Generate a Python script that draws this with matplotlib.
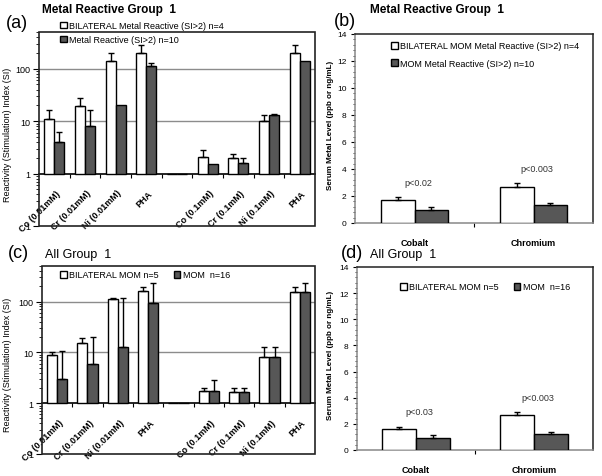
import matplotlib
matplotlib.use("Agg")
import matplotlib.pyplot as plt
from matplotlib.patches import Rectangle, Patch
from matplotlib.ticker import FixedLocator, NullFormatter
from matplotlib.transforms import ScaledTranslation
import numpy as np

plt.rcParams['font.family'] = ['Liberation Sans', 'DejaVu Sans']

# stimulation index panels (a) and (c)
si_cats = ['Co (0.01mM)', 'Cr (0.01mM)', 'Ni (0.01mM)', 'PHA', '',
           'Co (0.1mM)', 'Cr (0.1mM)', 'Ni (0.1mM)', 'PHA']

a_white = [11, 19, 140, 200, np.nan, 2.1, 2.0, 10.1, 195]
a_white_top = [16, 27, 200, 280, np.nan, 2.8, 2.35, 12.8, 280]
a_dark = [4, 8, 20, 112, np.nan, 1.5, 1.6, 13.2, 140]
a_dark_top = [6.3, 16, 20, 130, np.nan, 1.5, 2.0, 13.8, 140]

c_white = [9, 15, 110, 160, np.nan, 1.75, 1.65, 8, 155]
c_white_top = [10, 19.5, 115, 190, np.nan, 2.0, 2.0, 12.5, 190]
c_dark = [3, 6, 13, 95, np.nan, 1.75, 1.65, 8, 155]
c_dark_top = [10.5, 20, 118, 230, np.nan, 2.8, 2.0, 12.5, 235]

# serum metal panels (b) and (d)
metals = ['Cobalt', 'Chromium']
b_white = [1.7, 2.7]
b_white_top = [1.9, 2.95]
b_dark = [1.0, 1.3]
b_dark_top = [1.2, 1.5]
b_p = ['p<0.02', 'p<0.003']
b_p_y = [3.0, 4.0]

d_white = [1.6, 2.65]
d_white_top = [1.75, 2.9]
d_dark = [0.95, 1.2]
d_dark_top = [1.15, 1.4]
d_p = ['p<0.03', 'p<0.003']
d_p_y = [2.95, 4.05]

DARK = '#575757'
W, H = 602, 477

fig = plt.figure(figsize=(6.02, 4.77), dpi=100, facecolor='w')


def box(l, t, r, b):
    return fig.add_axes([l / W, 1 - b / H, (r - l) / W, (b - t) / H])


def up_errors(ax, x, vals, tops):
    v = np.array(vals, dtype=float)
    t = np.array(tops, dtype=float)
    keep = np.nan_to_num(t - v) > 0
    ax.errorbar(x[keep], v[keep], yerr=[np.zeros(keep.sum()), (t - v)[keep]],
                fmt='none', ecolor='black', elinewidth=1, capsize=2.5, zorder=4)


def si_panel(ax, white, white_top, dark, dark_top):
    x = np.arange(len(si_cats))
    bw = 0.33
    ax.set_yscale('log')
    ax.set_ylim(0.1, 500)
    ax.set_xlim(-0.5, len(si_cats) - 0.5)
    # bars rise from the category axis at 1
    ax.bar(x - bw / 2, np.nan_to_num(np.array(white) - 1), bw, bottom=1, color='white',
           edgecolor='black', lw=1, zorder=3)
    ax.bar(x + bw / 2, np.nan_to_num(np.array(dark) - 1), bw, bottom=1, color=DARK,
           edgecolor='black', lw=1, zorder=3)
    up_errors(ax, x - bw / 2, white, white_top)
    up_errors(ax, x + bw / 2, dark, dark_top)
    # y axis
    ax.yaxis.set_major_locator(FixedLocator([0.1, 1, 10, 100]))
    ax.set_yticklabels(['1', '1', '10', '100'], fontsize=6.5)
    ax.yaxis.set_minor_locator(FixedLocator(
        [m * 10.0 ** e for e in range(-1, 3) for m in range(2, 10)]))
    ax.yaxis.set_minor_formatter(NullFormatter())
    ax.tick_params(axis='y', which='major', direction='out', length=4, width=0.8, pad=2)
    ax.tick_params(axis='y', which='minor', direction='out', length=2, width=0.6)
    for v in [10, 100]:
        ax.axhline(v, color='#8c8c8c', lw=1, zorder=1)
    # category axis crosses at 1
    for s in ['top', 'right', 'left']:
        ax.spines[s].set_visible(False)
    ax.spines['bottom'].set_position(('data', 1))
    ax.spines['bottom'].set_linewidth(1.2)
    ax.add_patch(Rectangle((0, 0), 1, 1, transform=ax.transAxes, fill=False,
                           ec='#222222', lw=1.2, clip_on=False, zorder=5))
    ax.set_xticks(x)
    ax.set_xticklabels(si_cats, rotation=45, ha='right', rotation_mode='anchor',
                       fontsize=6.5, fontweight='bold')
    ax.set_xticks(np.arange(len(si_cats) - 1) + 0.5, minor=True)
    ax.tick_params(axis='x', which='major', length=0, pad=10.5)
    ax.tick_params(axis='x', which='minor', direction='out', length=3, width=0.8)
    off = ScaledTranslation(1 / 72, 0, fig.dpi_scale_trans)
    for lab in ax.get_xticklabels():
        lab.set_transform(lab.get_transform() + off)


def metal_panel(ax, white, white_top, dark, dark_top, ptxt, py):
    x = np.arange(len(metals))
    bw = 0.285
    ax.set_ylim(0, 14)
    ax.set_xlim(-0.5, 1.5)
    ax.bar(x - bw / 2, white, bw, color='white', edgecolor='black', lw=1, zorder=3)
    ax.bar(x + bw / 2, dark, bw, color=DARK, edgecolor='black', lw=1, zorder=3)
    up_errors(ax, x - bw / 2, white, white_top)
    up_errors(ax, x + bw / 2, dark, dark_top)
    for xi, t, yy in zip(x, ptxt, py):
        ax.text(xi + 0.03, yy, t, ha='center', va='center', fontsize=6.5, color='#333333')
    ax.set_yticks(np.arange(0, 15, 2))
    ax.set_yticks(np.arange(0, 14.01, 0.4), minor=True)
    ax.tick_params(axis='y', which='major', labelsize=6, length=3, pad=3)
    ax.tick_params(axis='y', which='minor', length=1.5, width=0.5)
    ax.set_xticks(x)
    ax.set_xticklabels(metals, fontsize=6.5, fontweight='bold')
    ax.set_xticks([0.5], minor=True)
    ax.tick_params(axis='x', which='major', length=0, pad=11)
    ax.tick_params(axis='x', which='minor', length=3, width=0.8)
    for s in ax.spines.values():
        s.set_linewidth(1.1)
        s.set_color('#222222')
    ax.spines['left'].set_color('#888888')
    ax.spines['bottom'].set_color('#888888')


def legend(ax, labels, anchor, ncol=1, spacing=0.55, colsp=2.0):
    handles = [Patch(facecolor='white', edgecolor='black', lw=1),
               Patch(facecolor=DARK, edgecolor='black', lw=1)]
    leg = ax.legend(handles, labels, loc='center left', bbox_to_anchor=anchor,
                    frameon=False, fontsize=6.5, ncol=ncol, handlelength=0.75,
                    handleheight=0.75, handletextpad=0.3, labelspacing=spacing,
                    columnspacing=colsp, borderpad=0, borderaxespad=0)
    leg.set_zorder(6)


# (a)
ax_a = box(39, 33, 315, 227)
si_panel(ax_a, a_white, a_white_top, a_dark, a_dark_top)
legend(ax_a, ['BILATERAL Metal Reactive (SI>2) n=4', 'Metal Reactive (SI>2) n=10'],
       (21 / 276, 1 + (33 - 33.5) / 194))

# (c)
ax_c = box(42, 267, 315, 455)
si_panel(ax_c, c_white, c_white_top, c_dark, c_dark_top)
legend(ax_c, ['BILATERAL MOM n=5', 'MOM  n=16'], (18 / 273, 1 - 9 / 188), ncol=2, colsp=1.6)

# (b)
ax_b = box(355, 35, 593, 224)
metal_panel(ax_b, b_white, b_white_top, b_dark, b_dark_top, b_p, b_p_y)
legend(ax_b, ['BILATERAL MOM Metal Reactive (SI>2) n=4', 'MOM Metal Reactive (SI>2) n=10'],
       (36 / 238, 1 - 20.5 / 189), spacing=0.9)

# (d)
ax_d = box(357, 268, 593, 451)
metal_panel(ax_d, d_white, d_white_top, d_dark, d_dark_top, d_p, d_p_y)
legend(ax_d, ['BILATERAL MOM n=5', 'MOM  n=16'], (43 / 236, 1 - 20 / 183), ncol=2, colsp=1.6)

# titles and panel letters
fig.text(42 / W, 1 - 10 / H, 'Metal Reactive Group  1', fontsize=8.5, fontweight='bold',
         ha='left', va='center')
fig.text(370 / W, 1 - 10 / H, 'Metal Reactive Group  1', fontsize=8.5, fontweight='bold',
         ha='left', va='center')
fig.text(45 / W, 1 - 255 / H, 'All Group  1', fontsize=9, ha='left', va='center')
fig.text(370 / W, 1 - 255 / H, 'All Group  1', fontsize=9, ha='left', va='center')
for lbl, xx, yy in [('(a)', 17, 24), ('(b)', 345, 21), ('(c)', 18, 254), ('(d)', 352, 254)]:
    fig.text(xx / W, 1 - yy / H, lbl, fontsize=13, ha='center', va='center')

# axis titles
fig.text(8 / W, 1 - 135 / H, 'Reactivity (Stimulation) Index (SI)', rotation=90,
         fontsize=6.5, ha='center', va='center')
fig.text(8 / W, 1 - 365 / H, 'Reactivity (Stimulation) Index (SI)', rotation=90,
         fontsize=6.5, ha='center', va='center')
fig.text(331 / W, 1 - 125 / H, 'Serum Metal Level (ppb or ng/mL)', rotation=90,
         fontsize=5.8, fontweight='bold', ha='center', va='center')
fig.text(331 / W, 1 - 355 / H, 'Serum Metal Level (ppb or ng/mL)', rotation=90,
         fontsize=5.8, fontweight='bold', ha='center', va='center')

fig.savefig('out.png', dpi=100)
